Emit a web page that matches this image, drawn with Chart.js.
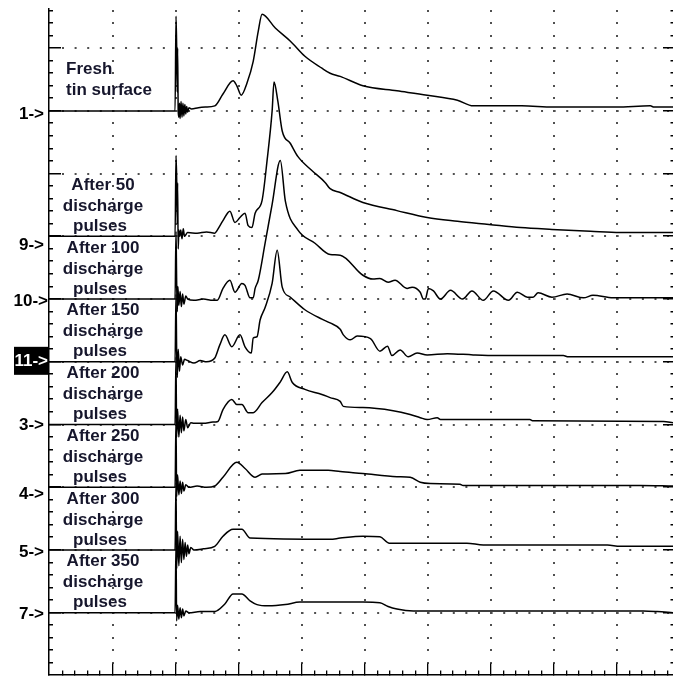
<!DOCTYPE html>
<html>
<head>
<meta charset="utf-8">
<script src="https://cdn.jsdelivr.net/npm/chart.js@4.4.0/dist/chart.umd.min.js"></script>
<style>
  html, body { margin: 0; padding: 0; background: #fff; }
  #wrap { width: 673px; height: 677px; }
</style>
</head>
<body>
<div id="wrap"><canvas id="scope" width="673" height="677"></canvas></div>
<script>
// channel markers, top to bottom, and their ground level (divisions from bottom)
const channelNames = ["1", "9", "10", "11", "3", "4", "5", "7"];
const channelOffsets = [9, 7, 6, 5, 4, 3, 2, 1];
const captions = [
  ["Fresh", "tin surface"],
  ["After 50", "discharge", "pulses"],
  ["After 100", "discharge", "pulses"],
  ["After 150", "discharge", "pulses"],
  ["After 200", "discharge", "pulses"],
  ["After 250", "discharge", "pulses"],
  ["After 300", "discharge", "pulses"],
  ["After 350", "discharge", "pulses"]
];

// traces: [time (div), signal (div above own ground)]
const trace1 = [[0,0],[2.0,0],[2.015,1.51],[2.025,1.05],[2.035,0.30],[2.04,1.00],[2.05,0.0],[2.06,-0.10],[2.07,0.12],[2.08,-0.12],[2.095,0.15],[2.11,-0.10],[2.125,0.12],[2.14,-0.08],[2.155,0.10],[2.17,-0.05],[2.185,0.07],[2.2,-0.02],[2.22,0.05],[2.26,0.03],[2.37,0.05],[2.48,0.06],[2.63,0.08],[2.76,0.27],[2.92,0.48],[2.98,0.40],[3.05,0.25],[3.14,0.44],[3.24,0.79],[3.32,1.27],[3.38,1.54],[3.59,1.32],[3.83,1.11],[4.06,0.87],[4.33,0.68],[4.46,0.60],[4.62,0.55],[4.98,0.40],[5.52,0.32],[6.00,0.25],[6.48,0.17],[6.73,0.08],[7.50,0.08],[8.00,0.06],[9.00,0.06],[9.54,0.08],[9.60,0.06],[9.90,0.06]];
const trace9 = [[0,0],[2.0,0],[2.015,1.29],[2.025,0.95],[2.035,0.20],[2.04,0.85],[2.05,-0.20],[2.06,0.10],[2.075,0.0],[2.09,0.10],[2.11,-0.04],[2.13,0.12],[2.15,0.0],[2.2,0.06],[2.35,0.05],[2.5,0.07],[2.63,0.05],[2.67,0.10],[2.76,0.25],[2.87,0.40],[2.95,0.22],[3.03,0.30],[3.11,0.37],[3.16,0.17],[3.22,0.14],[3.27,0.37],[3.38,0.57],[3.46,1.21],[3.54,2.00],[3.57,2.46],[3.63,2.16],[3.70,1.68],[3.83,1.48],[3.95,1.27],[4.17,1.05],[4.38,0.86],[4.46,0.76],[4.62,0.70],[4.98,0.54],[5.52,0.41],[6.00,0.30],[6.48,0.24],[6.98,0.19],[7.48,0.14],[7.98,0.11],[8.59,0.08],[9.06,0.06],[9.90,0.06]];
const trace10 = [[0,0],[2.0,0],[2.015,1.08],[2.025,0.30],[2.035,-0.20],[2.045,0.20],[2.06,-0.10],[2.08,0.12],[2.10,-0.12],[2.12,0.08],[2.14,-0.08],[2.17,0.05],[2.2,0.0],[2.3,-0.02],[2.45,0.0],[2.6,-0.02],[2.67,-0.02],[2.76,0.17],[2.87,0.30],[2.95,0.11],[3.06,0.25],[3.11,0.22],[3.19,0.02],[3.24,0.02],[3.27,0.17],[3.32,0.30],[3.43,0.90],[3.54,1.51],[3.67,2.21],[3.75,1.56],[3.95,1.10],[4.22,0.89],[4.46,0.71],[4.62,0.70],[4.98,0.38],[5.14,0.32],[5.25,0.33],[5.38,0.27],[5.49,0.30],[5.68,0.17],[5.76,0.19],[5.89,0.11],[5.94,0.0],[5.97,0.0],[6.02,0.17],[6.10,0.13],[6.21,0.0],[6.37,0.14],[6.56,0.0],[6.71,0.13],[6.89,-0.02],[7.05,0.13],[7.29,-0.02],[7.43,0.11],[7.59,0.03],[7.68,0.03],[7.76,0.10],[7.98,0.03],[8.22,0.08],[8.48,0.02],[8.63,0.06],[8.95,0.02],[9.90,0.02]];
const trace11 = [[0,0],[2.0,0],[2.015,1.08],[2.025,0.20],[2.035,-0.25],[2.05,0.20],[2.07,-0.15],[2.09,0.08],[2.12,-0.05],[2.15,0.04],[2.2,0.02],[2.3,-0.02],[2.4,0.02],[2.5,0.0],[2.63,0.06],[2.71,0.27],[2.79,0.43],[2.90,0.24],[3.03,0.43],[3.11,0.24],[3.21,0.14],[3.24,0.38],[3.30,0.40],[3.35,0.67],[3.43,0.87],[3.54,1.25],[3.62,1.78],[3.70,1.19],[3.83,1.03],[4.06,0.83],[4.33,0.68],[4.46,0.62],[4.62,0.52],[4.67,0.43],[4.78,0.35],[4.89,0.41],[5.10,0.37],[5.25,0.17],[5.37,0.25],[5.44,0.10],[5.57,0.19],[5.70,0.08],[5.84,0.14],[6.00,0.11],[6.32,0.13],[6.73,0.11],[7.11,0.10],[8.16,0.10],[8.24,0.08],[9.90,0.08]];
const trace3 = [[0,0],[2.0,0],[2.015,1.08],[2.025,-0.20],[2.04,0.25],[2.06,-0.20],[2.08,0.15],[2.10,-0.13],[2.12,0.12],[2.14,-0.10],[2.17,0.08],[2.20,-0.05],[2.25,0.03],[2.30,0.02],[2.45,0.02],[2.60,0.04],[2.68,0.05],[2.76,0.24],[2.90,0.40],[2.98,0.32],[3.06,0.32],[3.16,0.19],[3.24,0.19],[3.38,0.35],[3.54,0.51],[3.67,0.68],[3.78,0.84],[3.86,0.67],[4.06,0.56],[4.33,0.48],[4.46,0.43],[4.62,0.37],[4.67,0.29],[4.98,0.27],[5.46,0.22],[5.73,0.16],[5.89,0.11],[6.00,0.08],[6.16,0.11],[6.21,0.08],[7.63,0.08],[7.67,0.06],[9.75,0.05],[9.90,0.03]];
const trace4 = [[0,0],[2.0,0],[2.015,1.08],[2.025,-0.15],[2.04,0.20],[2.06,-0.12],[2.08,0.10],[2.10,-0.10],[2.12,0.08],[2.14,-0.06],[2.17,0.04],[2.22,0.0],[2.35,0.02],[2.50,0.0],[2.63,0.02],[2.76,0.16],[2.98,0.40],[3.11,0.30],[3.27,0.16],[3.38,0.21],[3.75,0.22],[3.98,0.27],[4.43,0.27],[4.62,0.25],[4.98,0.22],[5.52,0.17],[5.73,0.16],[5.89,0.08],[6.05,0.06],[6.52,0.05],[6.57,0.03],[9.38,0.03],[9.90,0.02]];
const trace5 = [[0,0],[2.0,0],[2.015,1.08],[2.025,-0.30],[2.04,0.30],[2.06,-0.25],[2.08,0.22],[2.10,-0.20],[2.12,0.17],[2.14,-0.15],[2.16,0.12],[2.18,-0.10],[2.20,0.08],[2.22,-0.06],[2.25,0.04],[2.30,0.0],[2.45,0.02],[2.63,0.06],[2.76,0.22],[2.92,0.33],[3.06,0.33],[3.19,0.19],[4.46,0.17],[4.62,0.19],[4.98,0.22],[5.25,0.21],[5.40,0.11],[6.63,0.11],[6.89,0.08],[8.86,0.08],[9.06,0.06],[9.90,0.06]];
const trace7 = [[0,0],[2.0,0],[2.015,1.08],[2.025,-0.13],[2.04,0.12],[2.06,-0.10],[2.08,0.08],[2.10,-0.08],[2.12,0.06],[2.14,-0.05],[2.17,0.03],[2.22,0.0],[2.40,0.02],[2.63,0.02],[2.79,0.14],[2.92,0.30],[3.06,0.30],[3.19,0.19],[3.30,0.13],[3.48,0.11],[3.75,0.13],[3.98,0.17],[4.98,0.17],[5.25,0.16],[5.38,0.10],[5.52,0.06],[5.78,0.03],[9.43,0.03],[9.65,0.02],[9.90,0.0]];

const traces = [trace1, trace9, trace10, trace11, trace3, trace4, trace5, trace7];

// grid, axis ticks, channel markers and captions
const scopeFrame = {
  id: "scopeFrame",
  beforeDatasetsDraw(chart) {
    const { ctx, chartArea: a, scales: { x, y } } = chart;
    ctx.save();
    // dotted graticule: one dot per minor step on every major line
    const step = x.getPixelForValue(0.2) - x.getPixelForValue(0);
    ctx.strokeStyle = "#505050";
    ctx.lineWidth = 2;
    ctx.setLineDash([2, step - 2]);
    for (let k = 1; k <= 10; k++) {
      const py = Math.round(y.getPixelForValue(k));
      ctx.beginPath();
      ctx.moveTo(Math.round(x.getPixelForValue(0.2)), py);
      ctx.lineTo(a.right - 4, py);
      ctx.stroke();
    }
    ctx.setLineDash([]);
    ctx.fillStyle = "#505050";
    for (let k = 1; k <= 9; k++) {
      const px = Math.round(x.getPixelForValue(k));
      for (let j = 1; j <= 53; j++) {
        ctx.fillRect(px, Math.round(y.getPixelForValue(j / 5)) - 1, 2, 2);
      }
    }
    // axes
    ctx.fillStyle = "#000";
    ctx.fillRect(a.left - 1, a.top, 1.5, a.bottom - a.top);
    ctx.fillRect(a.left - 1, a.bottom - 1.5, a.right - a.left + 1, 1.5);
    // bottom ticks
    for (let j = 1; j < 50; j++) {
      const px = Math.round(x.getPixelForValue(j / 5));
      const len = j % 5 === 0 ? 12 : 5;
      ctx.fillRect(px, a.bottom - len, 1.3, len);
    }
    // left and right ticks
    for (let j = 1; j <= 53; j++) {
      const py = Math.round(y.getPixelForValue(j / 5)) - 1;
      const major = j % 5 === 0;
      ctx.fillRect(a.left - 1, py, major ? 13 : 5, 1.5);
      ctx.fillRect(a.right - (major ? 10 : 2.5), py, major ? 10 : 2.5, 1.5);
    }
    ctx.restore();
  },
  afterDraw(chart) {
    const { ctx, scales: { y } } = chart;
    ctx.save();
    const nudge = [2, 8, 1, -2, 0, 6, 1, 1];
    ctx.font = 'bold 17px "Liberation Sans", Arial, sans-serif';
    ctx.textBaseline = "middle";
    ctx.textAlign = "right";
    channelNames.forEach((name, i) => {
      const py = y.getPixelForValue(channelOffsets[i]) + nudge[i];
      const right = name.length > 1 ? 48 : 44;
      if (name === "11") {
        ctx.fillStyle = "#000";
        ctx.fillRect(14, py - 13, 35, 28);
        ctx.fillStyle = "#fff";
      } else {
        ctx.fillStyle = "#000";
      }
      ctx.fillText(name + "->", right, py + 1);
    });
    // captions above each trace ground line
    ctx.fillStyle = "#16162c";
    ctx.textBaseline = "alphabetic";
    captions.forEach((lines, i) => {
      const base = y.getPixelForValue(channelOffsets[i]);
      if (lines.length === 2) {
        ctx.textAlign = "left";
        ctx.fillText(lines[0], 66, base - 37);
        ctx.fillText(lines[1], 66, base - 16);
      } else {
        ctx.textAlign = "center";
        ctx.fillText(lines[0], 103, base - 46.5);
        ctx.fillText(lines[1], 103, base - 25.5);
        ctx.fillText(lines[2], 100, base - 5.5);
      }
    });
    ctx.restore();
  }
};

new Chart(document.getElementById("scope"), {
  type: "line",
  data: {
    datasets: traces.map((tr, i) => ({
      label: channelNames[i],
      data: tr.map(([t, v]) => ({ x: t, y: v + channelOffsets[i] })),
      borderColor: "#000",
      borderWidth: 1.5,
      pointRadius: 0,
      cubicInterpolationMode: "monotone",
      fill: false
    }))
  },
  options: {
    responsive: false,
    animation: false,
    events: [],
    layout: { padding: { left: 49, right: 0, top: 8, bottom: 1.5 } },
    plugins: { legend: { display: false }, tooltip: { enabled: false } },
    scales: {
      x: { type: "linear", display: false, min: 0, max: 9.9 },
      y: { type: "linear", display: false, min: 0, max: 10.64 }
    }
  },
  plugins: [scopeFrame]
});
</script>
</body>
</html>
